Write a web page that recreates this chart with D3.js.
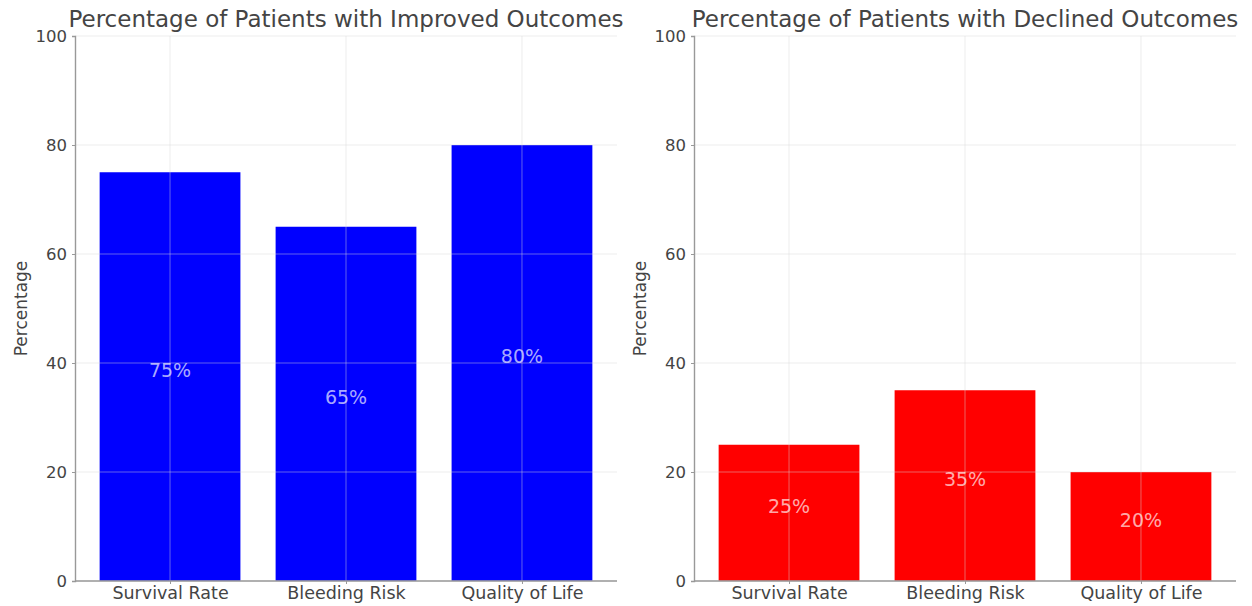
<!DOCTYPE html>
<html>
<head>
<meta charset="utf-8">
<script src="https://cdn.jsdelivr.net/npm/d3@7"></script>
<style>
  html, body { margin: 0; padding: 0; background: #fff; }
  svg { display: block; }
  text { font-family: "DejaVu Sans", sans-serif; }
</style>
</head>
<body>
<svg id="chart" width="1252" height="606"></svg>
<script>
// Outcome categories and percentages
const categories = ["Survival Rate", "Bleeding Risk", "Quality of Life"];
const improvedValues = [75, 65, 80];
const declinedValues = [25, 35, 20];
const yTicks = [0, 20, 40, 60, 80, 100];

const panels = [
  { title: "Percentage of Patients with Improved Outcomes", values: improvedValues, color: "#0000ff", left: 75, right: 617 },
  { title: "Percentage of Patients with Declined Outcomes", values: declinedValues, color: "#ff0000", left: 694, right: 1236 }
];

const svg = d3.select("#chart");
const plotTop = 36, plotBottom = 581;
const axisColor = "#999";
const textColor = "#444";

panels.forEach(p => {
  const g = svg.append("g");

  // categorical positions with matplotlib-like margins: bar width 0.8, 5% padding
  const x = d3.scaleLinear().domain([-0.54, categories.length - 1 + 0.54]).range([p.left, p.right]);
  const y = d3.scaleLinear().domain([0, 100]).range([plotBottom, plotTop]);
  const bw = x(0.4) - x(-0.4);

  // bars
  g.selectAll("rect.bar").data(p.values).enter().append("rect")
    .attr("class", "bar")
    .attr("x", (d, i) => x(i) - bw / 2)
    .attr("y", d => y(d))
    .attr("width", bw)
    .attr("height", d => y(0) - y(d))
    .attr("fill", p.color);

  // grid lines drawn above bars
  const grid = g.append("g").attr("stroke", "#d8d8d8").attr("stroke-opacity", 0.45).attr("stroke-width", 1);
  grid.selectAll("line.h").data(yTicks).enter().append("line")
    .attr("x1", p.left).attr("x2", p.right)
    .attr("y1", d => y(d)).attr("y2", d => y(d));
  grid.selectAll("line.v").data(categories).enter().append("line")
    .attr("x1", (d, i) => x(i)).attr("x2", (d, i) => x(i))
    .attr("y1", plotTop).attr("y2", plotBottom);

  // value labels at half height
  g.selectAll("text.val").data(p.values).enter().append("text")
    .attr("class", "val")
    .attr("x", (d, i) => x(i))
    .attr("y", d => y(d / 2))
    .attr("text-anchor", "middle")
    .attr("font-size", 19)
    .attr("fill", "#fff")
    .attr("fill-opacity", 0.68)
    .text(d => d + "%");

  // y axis
  const yAxis = g.append("g")
    .attr("transform", `translate(${p.left},0)`)
    .call(d3.axisLeft(y).tickValues(yTicks).tickSize(3).tickPadding(5));
  yAxis.select(".domain").attr("stroke", axisColor).attr("stroke-width", 1.4);
  yAxis.selectAll(".tick line").attr("stroke", axisColor);
  yAxis.selectAll(".tick text").attr("fill", textColor).attr("font-size", 16.5).attr("font-family", "DejaVu Sans");

  // x axis
  const xAxis = g.append("g")
    .attr("transform", `translate(0,${plotBottom})`)
    .call(d3.axisBottom(x).tickValues(categories.map((c, i) => i)).tickFormat(i => categories[i]).tickSize(3).tickPadding(3).tickSizeOuter(0));
  xAxis.select(".domain").attr("stroke", axisColor).attr("stroke-width", 1.4)
    .attr("d", `M${p.left},0H${p.right}`);
  xAxis.selectAll(".tick line").attr("stroke", axisColor);
  xAxis.selectAll(".tick text").attr("fill", textColor).attr("font-size", 17.5).attr("font-family", "DejaVu Sans");

  // y axis title
  g.append("text")
    .attr("transform", `translate(${p.left - 48},${(plotTop + plotBottom) / 2}) rotate(-90)`)
    .attr("text-anchor", "middle")
    .attr("font-size", 17)
    .attr("fill", textColor)
    .text("Percentage");

  // panel title
  g.append("text")
    .attr("x", (p.left + p.right) / 2)
    .attr("y", 27)
    .attr("text-anchor", "middle")
    .attr("font-size", 23)
    .attr("fill", textColor)
    .text(p.title);
});
</script>
</body>
</html>
